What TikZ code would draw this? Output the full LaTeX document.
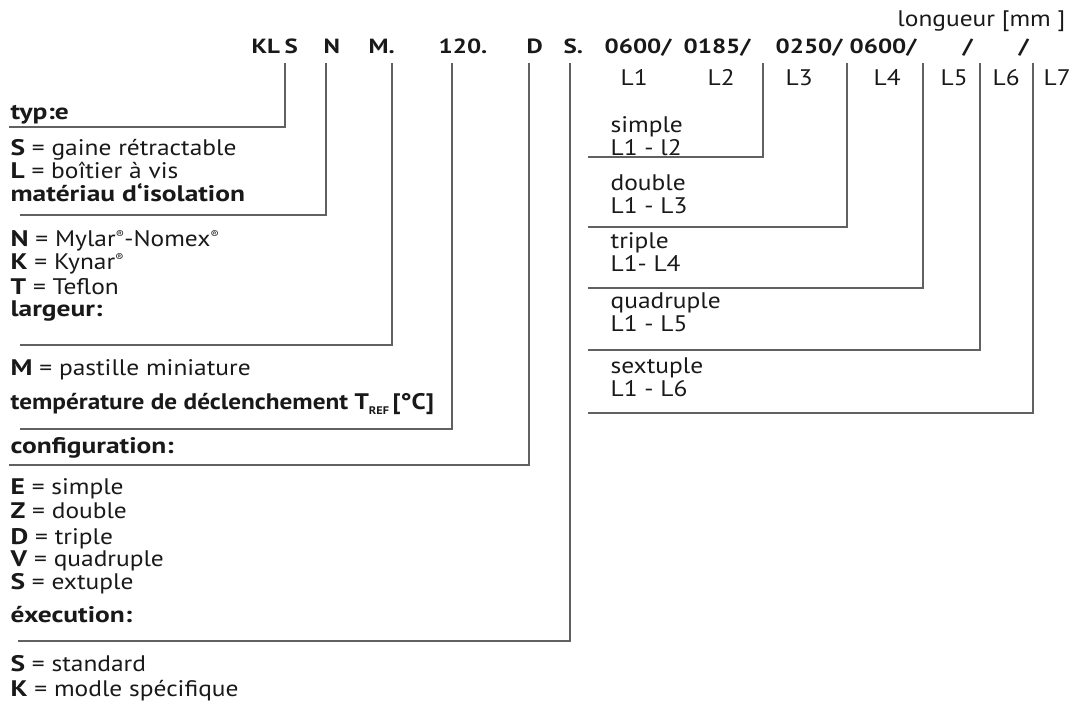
\documentclass[tikz,border=0pt]{standalone}
\usepackage{fontspec}
\setmainfont{PT Sans}[FakeStretch=1.13, BoldFeatures={FakeStretch=1.22}]
\usepackage{tikz}
\newcommand{\reg}{\raisebox{.65ex}{\fontsize{11}{11}\selectfont ®}}
\newcommand{\sref}{\raisebox{-.45ex}{\fontsize{11}{11}\selectfont\bfseries REF}}

\begin{document}
\begin{tikzpicture}[x=1pt, y=-1pt, line width=1.3pt,
    every node/.style={inner sep=0pt, anchor=base west, text=black!90},
    code/.style={font=\fontsize{20.5}{24}\selectfont\bfseries},
    txt/.style={font=\fontsize{22.5}{23}\selectfont},
    head/.style={font=\fontsize{22.5}{23}\selectfont\bfseries},
    leg/.style={draw=black!62}]
    \useasboundingbox (0,0) rectangle (1072,717);

    % Code.
    \node[txt, anchor=base east] (lg) at (1066,27) {longueur [mm ]};
    \node[code] (kl) at (251,54) {KL};
    \node[code] (cs) at (284,54) {S};
    \node[code] (cn) at (323,54) {N};
    \node[code] (cm) at (368,54) {M.};
    \node[code] (ct) at (438,54) {120.};
    \node[code] (cd) at (526,54) {D};
    \node[code] (ce) at (563,54) {S.};
    \node[code] (la) at (604,54) {0600/};
    \node[code] (lb) at (683,54) {0185/};
    \node[code] (lc) at (775,54) {0250/};
    \node[code] (ld) at (849,54) {0600/};
    \node[code] (le) at (962,54) {/};
    \node[code] (lf) at (1018,54) {/};

    \foreach \n/\x in {1/620, 2/707, 3/785, 4/873, 5/940, 6/992, 7/1043}
    {
        \node[txt] (n\n) at (\x,85) {L\n};
    }

    % Links.
    \node[head] (typ) at (10,119) {typ:e};
    \node[txt] (typs) at (10,155) {\textbf{S} = gaine rétractable};
    \node[txt] (typl) at (10,178) {\textbf{L} = boîtier à vis};
    \node[head] (mat) at (10,201) {matériau d‘isolation};
    \node[txt] (matn) at (10,246) {\textbf{N} = Mylar\reg-Nomex\reg};
    \node[txt] (matk) at (10,269) {\textbf{K} = Kynar\reg};
    \node[txt] (matt) at (10,294) {\textbf{T} = Teflon};
    \node[head] (lar) at (10,316) {largeur:};
    \node[txt] (larm) at (10,375) {\textbf{M} = pastille miniature};
    \node[head] (tmp) at (10,409) {\scalebox{.92}[1]{température de déclenchement T\sref\,[°C]}};
    \node[head] (cfg) at (10,453) {configuration:};
    \node[txt] (cfge) at (10,494) {\textbf{E} = simple};
    \node[txt] (cfgz) at (10,518) {\textbf{Z} = double};
    \node[txt] (cfgd) at (10,544) {\textbf{D} = triple};
    \node[txt] (cfgv) at (10,566) {\textbf{V} = quadruple};
    \node[txt] (cfgs) at (10,589) {\textbf{S} = extuple};
    \node[head] (exe) at (10,622) {éxecution:};
    \node[txt] (exes) at (10,671) {\textbf{S} = standard};
    \node[txt] (exek) at (10,696) {\textbf{K} = modle spécifique};

    % Rechts.
    \node[txt] (r1a) at (610,132) {simple};
    \node[txt] (r1b) at (610,155) {L1 - l2};
    \node[txt] (r2a) at (610,190) {double};
    \node[txt] (r2b) at (610,213) {L1 - L3};
    \node[txt] (r3a) at (610,248) {triple};
    \node[txt] (r3b) at (610,271) {L1- L4};
    \node[txt] (r4a) at (610,308) {quadruple};
    \node[txt] (r4b) at (610,331) {L1 - L5};
    \node[txt] (r5a) at (610,373) {sextuple};
    \node[txt] (r5b) at (610,396) {L1 - L6};

    % Linien.
    \coordinate (e1) at (9,127);
    \coordinate (e2) at (20,215);
    \coordinate (e3) at (20,345);
    \coordinate (e4) at (20,429);
    \coordinate (e5) at (9,465);
    \coordinate (e6) at (18,641);
    \draw[leg] ([shift={(1,9)}]cs.base west) |- (e1);
    \draw[leg] ([shift={(3,9)}]cn.base west) |- (e2);
    \draw[leg] ([shift={(24,9)}]cm.base west) |- (e3);
    \draw[leg] ([shift={(14,9)}]ct.base west) |- (e4);
    \draw[leg] ([shift={(3,9)}]cd.base west) |- (e5);
    \draw[leg] ([shift={(7,9)}]ce.base west) |- (e6);

    \coordinate (f1) at (588,157);
    \coordinate (f2) at (588,227);
    \coordinate (f3) at (588,288);
    \coordinate (f4) at (588,350);
    \coordinate (f5) at (588,413);
    \draw[leg] ([shift={(80,9)}]lb.base west) |- (f1);
    \draw[leg] ([shift={(72,9)}]lc.base west) |- (f2);
    \draw[leg] ([shift={(74,9)}]ld.base west) |- (f3);
    \draw[leg] ([shift={(18,9)}]le.base west) |- (f4);
    \draw[leg] ([shift={(15,9)}]lf.base west) |- (f5);
\end{tikzpicture}
\end{document}
